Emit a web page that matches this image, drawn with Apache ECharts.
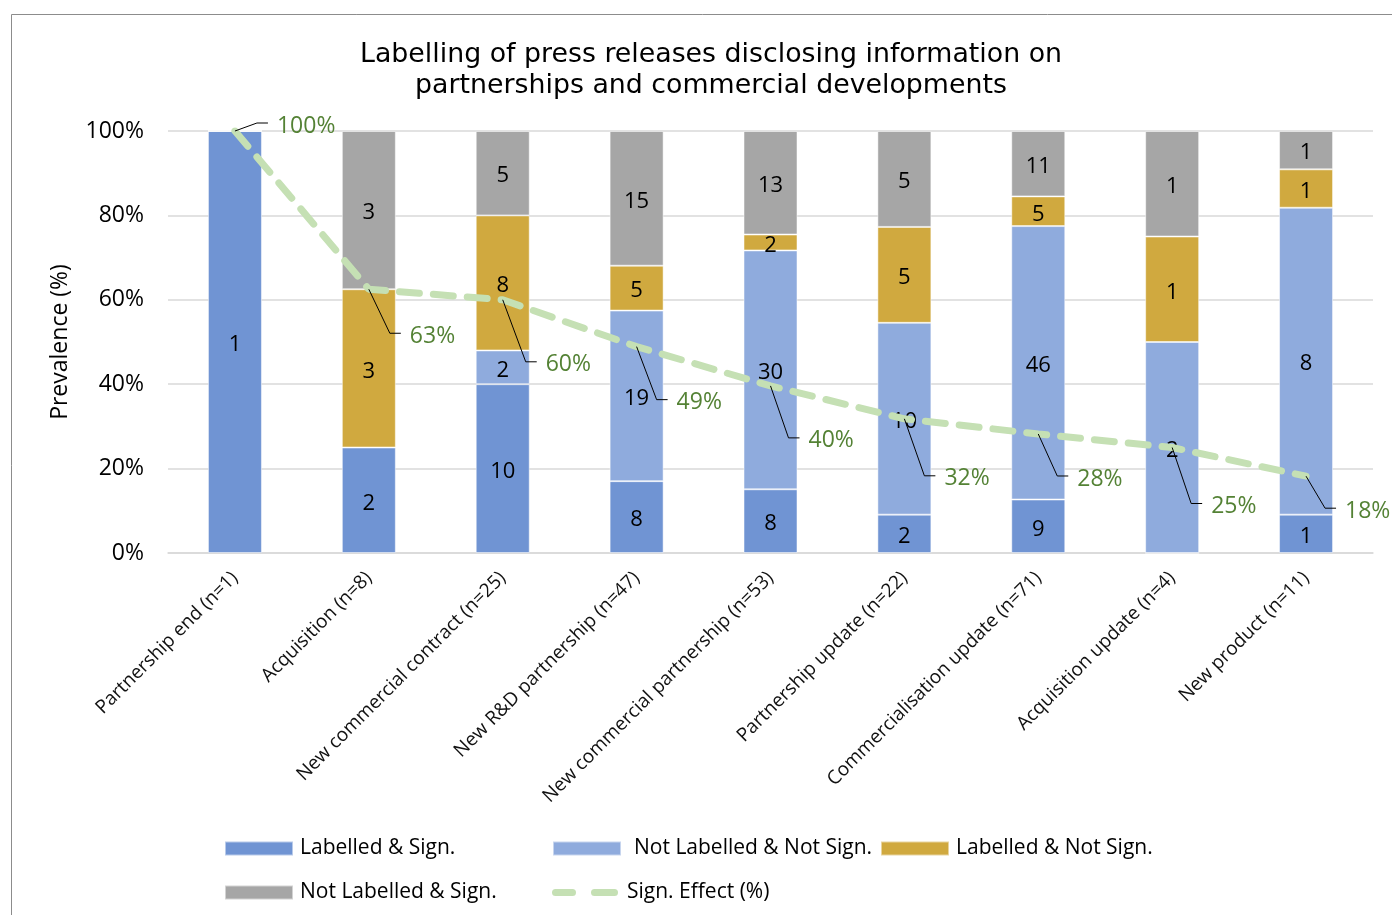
<!DOCTYPE html>
<html>
<head>
<meta charset="utf-8">
<script src="https://cdn.jsdelivr.net/npm/echarts@6/dist/echarts.min.js"></script>
<style>
  html, body { margin: 0; padding: 0; background: #fff; }
  #chart { width: 1392px; height: 915px; }
</style>
</head>
<body>
<div id="chart"></div>
<script>
const categories = [
  'Partnership end (n=1)', 'Acquisition (n=8)', 'New commercial contract (n=25)',
  'New R&D partnership (n=47)', 'New commercial partnership (n=53)', 'Partnership update (n=22)',
  'Commercialisation update (n=71)', 'Acquisition update (n=4)', 'New product (n=11)'
];
const labelledSign       = [1, 2, 10, 8, 8, 2, 9, 0, 1];
const notLabelledNotSign = [0, 0, 2, 19, 30, 10, 46, 2, 8];
const labelledNotSign    = [0, 3, 8, 5, 2, 5, 5, 1, 1];
const notLabelledSign    = [0, 3, 5, 15, 13, 5, 11, 1, 1];
const signEffect         = [100, 62.5, 60, 48.9, 39.6, 31.8, 28.2, 25, 18.2];
const yTicks = [0, 20, 40, 60, 80, 100];

// label leader-line layout (pixels), not data
const leader = [[22,-8],[21,44],[23,62],[20,53],[18,52],[20,57],[19,42],[19,56],[19,32]];

const totals = categories.map((c, i) =>
  labelledSign[i] + notLabelledNotSign[i] + labelledNotSign[i] + notLabelledSign[i]);

const FONT = '"Open Sans", sans-serif';

function barSeries(name, counts, color) {
  return {
    name, type: 'bar', stack: 'all', barWidth: 54,
    itemStyle: { color, borderColor: 'rgba(255,255,255,0.5)', borderWidth: 1 },
    label: {
      show: true, position: 'inside', color: '#000', offset: [0, 3],
      fontFamily: FONT, fontSize: 22,
      formatter: p => counts[p.dataIndex] > 0 ? String(counts[p.dataIndex]) : ''
    },
    data: counts.map((v, i) => v / totals[i] * 100)
  };
}

const DASH_ICON = 'path://M3.5,0H20.5A3.5,3.5,0,0,1,20.5,7H3.5A3.5,3.5,0,0,1,3.5,0Z' +
                  'M42.5,0H62.5A3.5,3.5,0,0,1,62.5,7H42.5A3.5,3.5,0,0,1,42.5,0Z';

const chart = echarts.init(document.getElementById('chart'));
function legendAt(name, left, top, textPad, extra) {
  return Object.assign({
    orient: 'horizontal', padding: 0, itemGap: 0, itemWidth: 68, itemHeight: 14, icon: 'rect',
    textStyle: { fontFamily: FONT, fontSize: 21, color: '#000', padding: [0, 0, 0, textPad] },
    selectedMode: false, data: [name], left, top
  }, extra || {});
}
chart.setOption({
  animation: false,
  backgroundColor: '#fff',
  graphic: [{
    type: 'rect', left: 9, top: 12, shape: { width: 1400, height: 920 },
    style: { fill: 'none', stroke: '#8c8c8c', lineWidth: 1 }, silent: true
  }],
  title: {
    text: 'Labelling of press releases disclosing information on\npartnerships and commercial developments',
    left: 706, top: 35, textAlign: 'center',
    textStyle: { fontFamily: 'DejaVu Sans', fontSize: 26.8, fontWeight: 'normal', color: '#000', lineHeight: 31 }
  },
  legend: [
    legendAt('Labelled & Sign.', 224, 838, 2),
    legendAt('Not Labelled & Not Sign.', 552, 838, 8),
    legendAt('Labelled & Not Sign.', 880, 838, 2),
    legendAt('Not Labelled & Sign.', 224, 882, 2),
    legendAt('Sign. Effect (%)', 552, 882, 4, { itemWidth: 66, itemHeight: 7, icon: DASH_ICON })
  ],
  grid: { left: 168, right: 19, top: 131, bottom: 362 },
  xAxis: {
    type: 'category', data: categories,
    axisLine: { lineStyle: { color: '#d9d9d9', width: 1.5 } },
    axisTick: { show: false },
    axisLabel: { rotate: 45, interval: 0, margin: 22, fontFamily: FONT, fontSize: 19, color: '#111' }
  },
  yAxis: {
    type: 'value', min: yTicks[0], max: yTicks[yTicks.length - 1], interval: 20,
    name: 'Prevalence (%)', nameLocation: 'middle', nameGap: 96, nameRotate: 90,
    nameTextStyle: { fontFamily: FONT, fontSize: 23, color: '#000' },
    axisLine: { show: false }, axisTick: { show: false },
    splitLine: { lineStyle: { color: '#d9d9d9', width: 1.5 } },
    axisLabel: { formatter: '{value}%', margin: 24, fontFamily: FONT, fontSize: 23, color: '#000',
                 padding: [4, 0, 0, 0] }
  },
  series: [
    barSeries('Labelled & Sign.', labelledSign, '#7094d3'),
    barSeries('Not Labelled & Not Sign.', notLabelledNotSign, '#8fabdd'),
    barSeries('Labelled & Not Sign.', labelledNotSign, '#d0a93f'),
    barSeries('Not Labelled & Sign.', notLabelledSign, '#a6a6a6'),
    {
      name: 'Sign. Effect (%)', type: 'line', symbol: 'none', z: 5,
      lineStyle: { color: '#c5e0b4', width: 7, type: [20, 14], cap: 'round' },
      itemStyle: { color: '#c5e0b4' },
      data: signEffect
    },
    {
      name: 'leaders', type: 'custom', z: 6, silent: true,
      data: signEffect.map((v, i) => [i, v]),
      renderItem: function (params, api) {
        const p = api.coord([api.value(0), api.value(1)]);
        const o = leader[params.dataIndex];
        const ex = p[0] + o[0], ey = p[1] + o[1];
        return {
          type: 'group',
          children: [
            { type: 'polyline', shape: { points: [[p[0], p[1]], [ex, ey], [ex + 11, ey]] },
              style: { stroke: '#000', lineWidth: 1, fill: 'none' } },
            { type: 'text', x: ex + 20, y: ey + 3,
              style: { text: Math.round(api.value(1)) + '%', fill: '#548235',
                       font: '23px ' + FONT, textVerticalAlign: 'middle', textAlign: 'left' } }
          ]
        };
      }
    }
  ]
});
</script>
</body>
</html>
